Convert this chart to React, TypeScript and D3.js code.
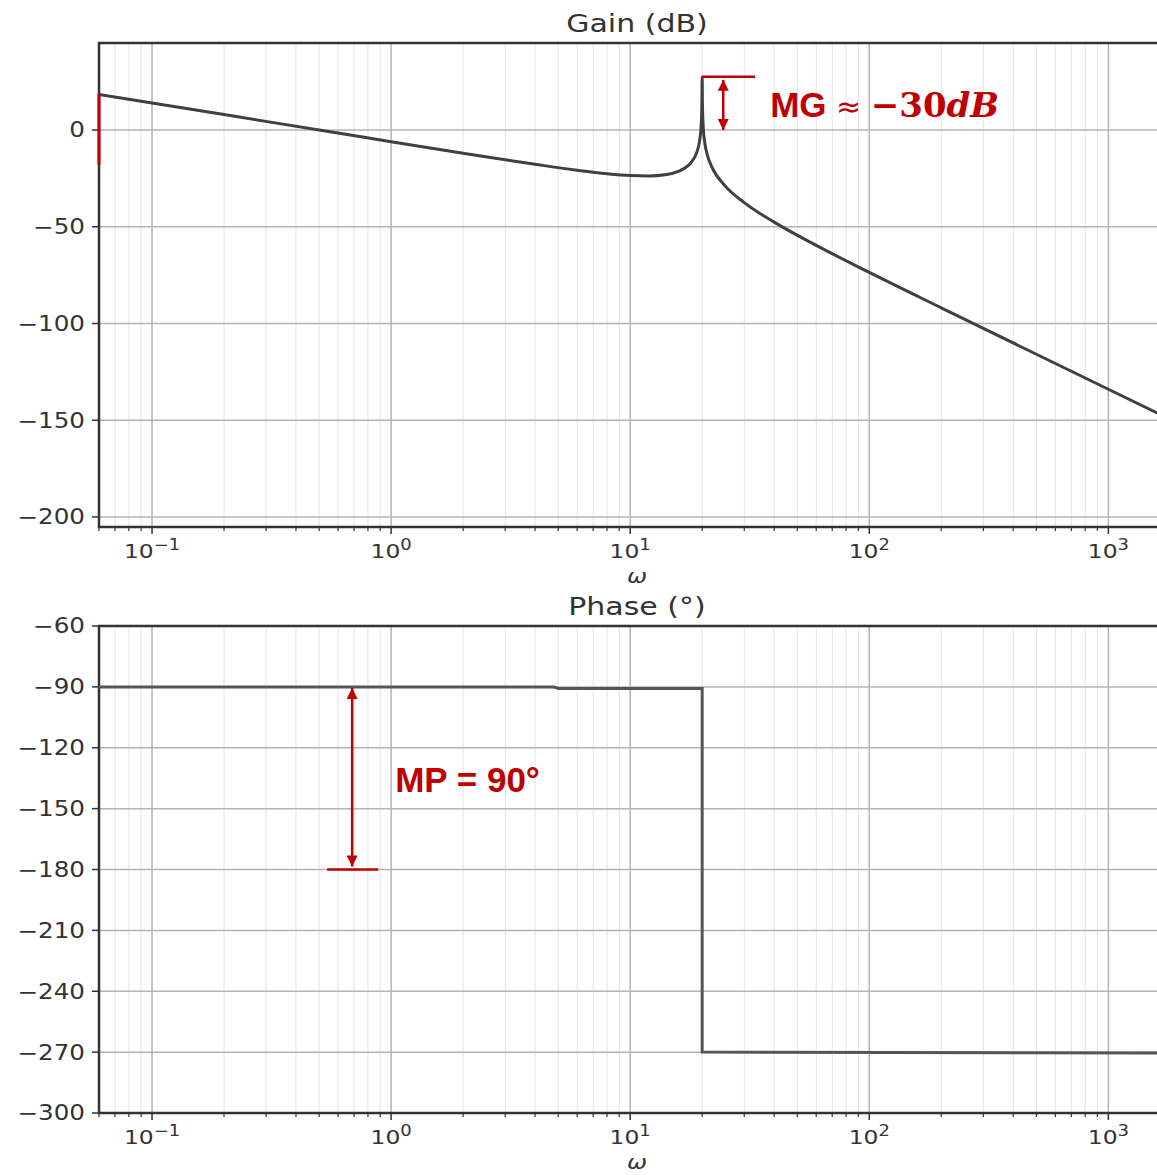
import React from "react";
import * as d3 from "d3";

// frequency samples (rad/s) and gain
const omega = [0.06, 0.1, 0.2, 0.5, 1, 2, 4, 6, 8, 10, 12, 14, 16, 17, 18, 19, 19.5, 19.8, 19.95, 20, 20.05, 20.2, 20.5, 21, 22, 25, 30, 40, 60, 100, 200, 500, 1000, 1900];
const gainDb = [18.4, 14.0, 8.0, 0.0, -6.0, -12.0, -17.7, -20.8, -22.6, -23.5, -23.7, -23.1, -21.2, -19.5, -16.7, -11.4, -5.7, 2.1, 14.0, 27.4, 14.0, 1.8, -6.3, -12.7, -19.3, -29.0, -37.5, -47.6, -59.6, -73.6, -91.9, -115.9, -134.0, -150.7];

// phase curve (step at the resonance)
const phaseOmega = [0.06, 4.8, 5.0, 20, 20, 1900];
const phaseDeg = [-90.0, -90.1, -90.8, -90.8, -270.0, -270.4];

const gainTicks = [0, -50, -100, -150, -200];
const phaseTicks = [-60, -90, -120, -150, -180, -210, -240, -270, -300];
const decadeExps = [-1, 0, 1, 2, 3];

// annotations (data coordinates)
const mgLine = { w0: 20, w1: 33.3, db: 27.5 };
const mgArrow = { w: 24.5, from: 27.0, to: 0 };
const mgLeftBar = { from: 19, to: -18 };
const mgLabel = { w: 38.5, db: 6.7 };
const mpArrow = { w: 0.687, from: -90, to: -180 };
const mpLine = { w0: 0.54, w1: 0.882, deg: -180 };
const mpLabel = { w: 1.04, deg: -141.8 };

const W = 1157;
const H = 1175;
const RED = "#c00000";
const STRETCH = 1.2;

const x = d3.scaleLog().domain([0.06, 1900]).range([99, 1175]);
const yGain = d3.scaleLinear().domain([-205.2, 45]).range([527, 43]);
const yPhase = d3.scaleLinear().domain([-300, -60]).range([1113, 626]);

const minorTicks: number[] = [];
for (let e = -2; e <= 3; e++) {
  for (let k = 2; k <= 9; k++) {
    const v = k * Math.pow(10, e);
    if (v >= 0.06 && v <= 1900) minorTicks.push(v);
  }
}

const fmt = (v: number) => (v < 0 ? "\u2212" + Math.abs(v) : String(v));

function Panel({ y, ticks, title }: { y: d3.ScaleLinear<number, number>; ticks: number[]; title: string }) {
  const [y0, y1] = y.range();
  const top = Math.min(y0, y1);
  const bottom = Math.max(y0, y1);
  const [xl, xr] = x.range();
  return (
    <g>
      {minorTicks.map((v) => (
        <line key={"m" + v} x1={x(v)} x2={x(v)} y1={top} y2={bottom} stroke="#e4e4e4" strokeWidth={1} />
      ))}
      {decadeExps.map((e) => (
        <line key={"M" + e} x1={x(Math.pow(10, e))} x2={x(Math.pow(10, e))} y1={top} y2={bottom} stroke="#b4b4b4" strokeWidth={1.5} />
      ))}
      {ticks.map((t) => (
        <line key={"h" + t} x1={xl} x2={xr} y1={y(t)} y2={y(t)} stroke="#b4b4b4" strokeWidth={1.5} />
      ))}
      {/* y ticks */}
      {ticks.map((t) => (
        <g key={"yt" + t}>
          <line x1={xl - 7} x2={xl} y1={y(t)} y2={y(t)} stroke="#333" strokeWidth={1.5} />
          <text
            transform={`translate(${xl - 14},${y(t)}) scale(${STRETCH},1)`}
            textAnchor="end"
            dy="0.36em"
            fontFamily="DejaVu Sans"
            fontSize={20.5}
            fill="#333"
          >
            {fmt(t)}
          </text>
        </g>
      ))}
      {/* x ticks */}
      {minorTicks.map((v) => (
        <line key={"xm" + v} x1={x(v)} x2={x(v)} y1={bottom} y2={bottom + 4} stroke="#333" strokeWidth={1.2} />
      ))}
      {decadeExps.map((e) => (
        <g key={"xt" + e}>
          <line x1={x(Math.pow(10, e))} x2={x(Math.pow(10, e))} y1={bottom} y2={bottom + 7} stroke="#333" strokeWidth={1.5} />
          <text
            transform={`translate(${x(Math.pow(10, e))},${bottom + 31}) scale(${STRETCH},1)`}
            textAnchor="middle"
            fontFamily="DejaVu Sans"
            fontSize={19.5}
            fill="#333"
          >
            10
            <tspan fontSize={15} dy={-8}>
              {fmt(e)}
            </tspan>
          </text>
        </g>
      ))}
      <rect x={xl} y={top} width={xr - xl} height={bottom - top} fill="none" stroke="#333" strokeWidth={2.5} />
      <text
        transform={`translate(${(xl + xr) / 2},${top - 11}) scale(${STRETCH},1)`}
        textAnchor="middle"
        fontFamily="DejaVu Sans"
        fontSize={25}
        fill="#333"
      >
        {title}
      </text>
      <text
        transform={`translate(${(xl + xr) / 2},${bottom + 56}) scale(${STRETCH},1)`}
        textAnchor="middle"
        fontFamily="DejaVu Sans"
        fontStyle="italic"
        fontSize={20}
        fill="#333"
      >
        ω
      </text>
    </g>
  );
}

export default function App() {
  const gainPath = d3
    .line<number>()
    .x((_, i) => x(omega[i]))
    .y((d) => yGain(d))
    .curve(d3.curveMonotoneX)(gainDb) as string;

  const phasePath = d3
    .line<number>()
    .x((_, i) => x(phaseOmega[i]))
    .y((d) => yPhase(d))(phaseDeg) as string;

  const [xl] = x.range();

  return (
    <div style={{ position: "absolute", left: 0, top: 0, width: W, height: H, overflow: "hidden", background: "#fff" }}>
      <svg width={W} height={H} style={{ display: "block" }}>
        <defs>
          <marker id="arr" viewBox="0 0 10 10" refX={10} refY={5} markerUnits="userSpaceOnUse" markerWidth={12} markerHeight={11} orient="auto-start-reverse">
            <path d="M0,0 L10,5 L0,10 z" fill={RED} />
          </marker>
          <clipPath id="plotClip">
            <rect x={99} y={0} width={1080} height={H} />
          </clipPath>
        </defs>
        <rect width={W} height={H} fill="#fff" />

        <Panel y={yGain} ticks={gainTicks} title="Gain (dB)" />
        <Panel y={yPhase} ticks={phaseTicks} title="Phase (°)" />

        <g clipPath="url(#plotClip)">
          <path d={gainPath} fill="none" stroke="#404040" strokeWidth={3} />
          <path d={phasePath} fill="none" stroke="#555" strokeWidth={3} />
        </g>

        {/* gain margin annotation */}
        <line x1={xl} x2={xl} y1={yGain(mgLeftBar.from)} y2={yGain(mgLeftBar.to)} stroke={RED} strokeWidth={3} />
        <line x1={x(mgLine.w0)} x2={x(mgLine.w1)} y1={yGain(mgLine.db)} y2={yGain(mgLine.db)} stroke={RED} strokeWidth={2.5} />
        <line
          x1={x(mgArrow.w)}
          x2={x(mgArrow.w)}
          y1={yGain(mgArrow.from) + 2}
          y2={yGain(mgArrow.to)}
          stroke={RED}
          strokeWidth={2.5}
          markerStart="url(#arr)"
          markerEnd="url(#arr)"
        />
        <text x={x(mgLabel.w)} y={yGain(mgLabel.db)} fill={RED}>
          <tspan fontFamily="Liberation Sans" fontWeight="bold" fontSize={35}>MG</tspan>
          <tspan fontFamily="DejaVu Sans" fontSize={30}>{" ≈ "}</tspan>
          <tspan fontFamily="DejaVu Serif" fontWeight="bold" fontSize={34}>−30</tspan>
          <tspan fontFamily="DejaVu Serif" fontWeight="bold" fontStyle="italic" fontSize={34}>dB</tspan>
        </text>

        {/* phase margin annotation */}
        <line
          x1={x(mpArrow.w)}
          x2={x(mpArrow.w)}
          y1={yPhase(mpArrow.from) + 1}
          y2={yPhase(mpArrow.to) - 3}
          stroke={RED}
          strokeWidth={2.5}
          markerStart="url(#arr)"
          markerEnd="url(#arr)"
        />
        <line x1={x(mpLine.w0)} x2={x(mpLine.w1)} y1={yPhase(mpLine.deg)} y2={yPhase(mpLine.deg)} stroke={RED} strokeWidth={2.5} />
        <text x={x(mpLabel.w)} y={yPhase(mpLabel.deg)} fill={RED} fontFamily="Liberation Sans" fontWeight="bold" fontSize={35}>
          MP = 90°
        </text>
      </svg>
    </div>
  );
}
